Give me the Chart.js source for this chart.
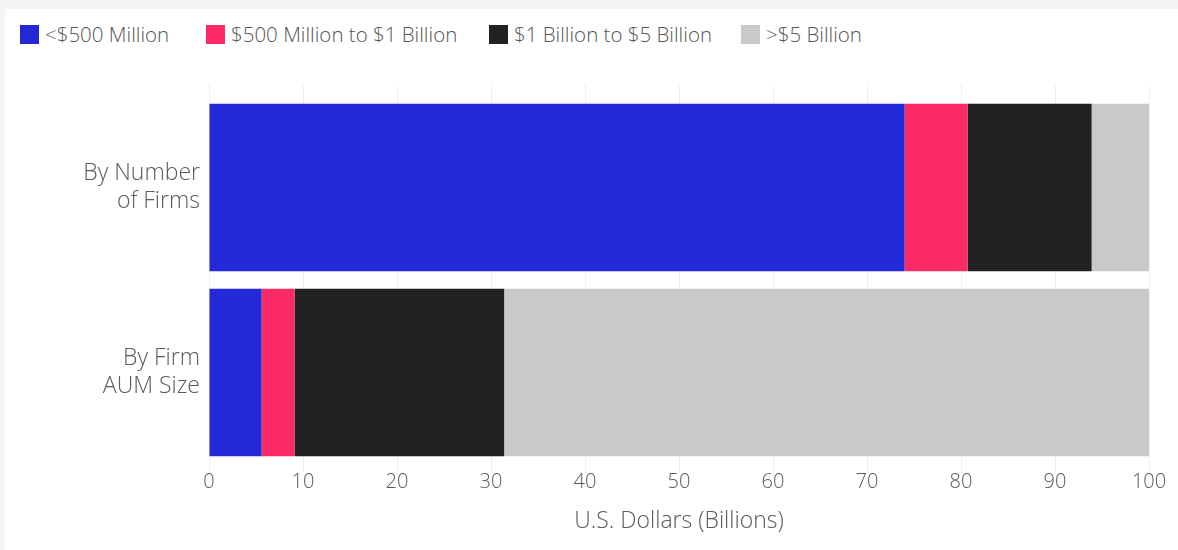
<!DOCTYPE html>
<html>
<head>
<meta charset="utf-8">
<script src="https://cdn.jsdelivr.net/npm/chart.js@4/dist/chart.umd.min.js"></script>
<style>
    html, body { margin: 0; padding: 0; }
    body { width: 1178px; height: 550px; background: #f4f4f4; position: relative; overflow: hidden; font-family: 'Open Sans', sans-serif; }
    #panel { position: absolute; left: 5px; top: 9px; right: 0; bottom: 0; background: #fff; }
    .legend-item { position: absolute; top: 20px; display: flex; align-items: center; font-size: 20.5px; font-weight: 300; color: #555; white-space: nowrap; }
    .legend-box { width: 19px; height: 19px; margin-right: 6px; }
    #chart-wrap { position: absolute; left: 0; top: 60px; width: 1178px; height: 490px; }
</style>
</head>
<body>
<div id="panel"></div>
<div id="legend"></div>
<div id="chart-wrap"><canvas id="chart"></canvas></div>
<script>
// Data
const categories = [['By Number', 'of Firms'], ['By Firm', 'AUM Size']];
const seriesNames = ['<$500 Million', '$500 Million to $1 Billion', '$1 Billion to $5 Billion', '>$5 Billion'];
const underHalfBillion = [74.0, 5.6];
const halfToOneBillion = [6.7, 3.5];
const oneToFiveBillion = [13.2, 22.3];
const overFiveBillion = [6.1, 68.6];
const xTicks = [0, 10, 20, 30, 40, 50, 60, 70, 80, 90, 100];

// Styles
const colors = ['#2329d6', '#fc2a66', '#222222', '#c9c9c9'];
const legendLeft = [20, 206, 489, 741];
const gridColor = '#edf0f4';
const textColor = '#5a5a5a';

// Legend (HTML)
const legendEl = document.getElementById('legend');
seriesNames.forEach((name, i) => {
    const item = document.createElement('div');
    item.className = 'legend-item';
    item.style.left = legendLeft[i] + 'px';
    const box = document.createElement('span');
    box.className = 'legend-box';
    box.style.background = colors[i];
    const label = document.createElement('span');
    label.textContent = name;
    item.appendChild(box);
    item.appendChild(label);
    legendEl.appendChild(item);
});

// Grid lines run a bit above the plot area in the original
const gridTopExtend = {
    id: 'gridTopExtend',
    beforeDatasetsDraw(chart) {
        const { ctx, chartArea, scales } = chart;
        ctx.save();
        ctx.strokeStyle = gridColor;
        ctx.lineWidth = 1;
        scales.x.ticks.forEach((t) => {
            const x = Math.round(scales.x.getPixelForValue(t.value)) + 0.5;
            ctx.beginPath();
            ctx.moveTo(x, chartArea.top - 10);
            ctx.lineTo(x, chartArea.top);
            ctx.stroke();
        });
        ctx.restore();
    }
};

const seriesData = [underHalfBillion, halfToOneBillion, oneToFiveBillion, overFiveBillion];

new Chart(document.getElementById('chart').getContext('2d'), {
    type: 'bar',
    data: {
        labels: categories,
        datasets: seriesData.map((d, i) => ({
            label: seriesNames[i],
            data: d,
            backgroundColor: colors[i],
            borderWidth: 0,
            categoryPercentage: 0.905,
            barPercentage: 1
        }))
    },
    options: {
        indexAxis: 'y',
        responsive: true,
        maintainAspectRatio: false,
        animation: false,
        layout: { padding: { top: 35, right: 29, left: 0, bottom: 0 } },
        plugins: {
            legend: { display: false },
            tooltip: { enabled: false }
        },
        scales: {
            x: {
                stacked: true,
                min: 0,
                max: 100,
                afterBuildTicks: (scale) => { scale.ticks = xTicks.map(v => ({ value: v })); },
                grid: { color: gridColor, tickLength: 8 },
                border: { display: false },
                ticks: {
                    color: textColor,
                    padding: -3,
                    maxRotation: 0,
                    font: { family: 'Open Sans', size: 20, weight: '300' }
                },
                title: {
                    display: true,
                    text: 'U.S. Dollars (Billions)',
                    color: textColor,
                    padding: { top: 0, bottom: 15 },
                    font: { family: 'Open Sans', size: 23, weight: '300' }
                },
                afterFit: (scale) => { scale.height = 85; }
            },
            y: {
                stacked: true,
                grid: { display: false },
                border: { display: false },
                ticks: {
                    color: textColor,
                    padding: 1,
                    font: { family: 'Open Sans', size: 23, weight: '300', lineHeight: 1.22 }
                },
                afterFit: (scale) => { scale.width = 209; }
            }
        }
    },
    plugins: [gridTopExtend]
});
</script>
</body>
</html>
